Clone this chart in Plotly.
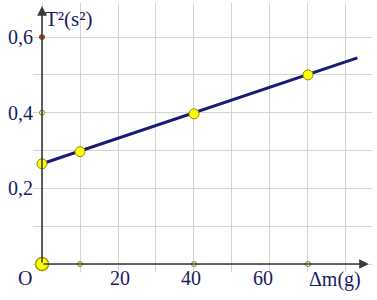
import plotly.graph_objects as go

# Data
dm = [0, 10, 40, 70]
t2 = [0.265, 0.297, 0.397, 0.50]
fit_x = [0, 83]
fit_y = [0.265, 0.545]
x_tick_dots = [10, 40, 70]
y_tick_dots_olive = [0.4]
y_tick_dots_red = [0.6]
x_labels = ["20", "40", "60"]
x_label_pos = [20.4, 39.2, 58.2]
y_labels = ["0,2", "0,4", "0,6"]
y_label_pos = [0.2, 0.4, 0.6]

NAVY = "#1a1a66"
FONT = dict(family="Liberation Serif, Times New Roman, serif", size=20, color=NAVY)

fig = go.Figure()

# fitted line
fig.add_trace(go.Scatter(x=fit_x, y=fit_y, mode="lines",
                         line=dict(color="#1a1a78", width=3), hoverinfo="skip"))
# data points
fig.add_trace(go.Scatter(x=dm, y=t2, mode="markers",
                         marker=dict(size=10, color="#ffff00",
                                     line=dict(color="#8a8a10", width=1)),
                         hoverinfo="skip"))
# axis dots
fig.add_trace(go.Scatter(x=x_tick_dots, y=[0] * len(x_tick_dots), mode="markers",
                         marker=dict(size=5, color="#f4f4c0",
                                     line=dict(color="#7a8a20", width=1)),
                         hoverinfo="skip"))
fig.add_trace(go.Scatter(x=[0] * len(y_tick_dots_olive), y=y_tick_dots_olive, mode="markers",
                         marker=dict(size=5, color="#f4f4c0",
                                     line=dict(color="#7a8a20", width=1)),
                         hoverinfo="skip"))
fig.add_trace(go.Scatter(x=[0] * len(y_tick_dots_red), y=y_tick_dots_red, mode="markers",
                         marker=dict(size=5, color="#b04030",
                                     line=dict(color="#a03020", width=1)),
                         hoverinfo="skip"))
# origin
fig.add_trace(go.Scatter(x=[0], y=[0], mode="markers",
                         marker=dict(size=13, color="#ffff00",
                                     line=dict(color="#a0a000", width=1.5)),
                         hoverinfo="skip"))

annotations = []
# axes arrows
annotations.append(dict(x=86, y=0, ax=0, ay=0, xref="x", yref="y", axref="x", ayref="y",
                        showarrow=True, arrowhead=2, arrowsize=1.2, arrowwidth=1.6,
                        arrowcolor="#3a3a3a", text=""))
annotations.append(dict(x=0, y=0.682, ax=0, ay=0, xref="x", yref="y", axref="x", ayref="y",
                        showarrow=True, arrowhead=2, arrowsize=1.2, arrowwidth=1.6,
                        arrowcolor="#3a3a3a", text=""))
for lab, yv in zip(y_labels, y_label_pos):
    annotations.append(dict(x=-1.8, y=yv, xref="x", yref="y", text=lab, showarrow=False,
                            xanchor="right", yanchor="middle", font=FONT))
# labels below the axis (paper y, below plot area)
for lab, xv in zip(x_labels, x_label_pos):
    annotations.append(dict(x=xv, y=-0.022, xref="x", yref="paper", text=lab, showarrow=False,
                            xanchor="center", yanchor="middle", font=FONT))
annotations.append(dict(x=77, y=-0.028, xref="x", yref="paper", text="Δm(g)", showarrow=False,
                        xanchor="center", yanchor="middle", font=FONT))
annotations.append(dict(x=-0.024, y=-0.022, xref="paper", yref="paper", text="O", showarrow=False,
                        xanchor="center", yanchor="middle", font=FONT))
annotations.append(dict(x=0.2, y=0.648, xref="x", yref="y", text="T²(s²)",
                        showarrow=False, xanchor="left", yanchor="middle",
                        font=dict(family=FONT["family"], size=21, color=NAVY)))

fig.update_layout(
    width=377, height=300,
    margin=dict(l=33, r=5, t=3, b=28),
    paper_bgcolor="white", plot_bgcolor="white",
    showlegend=False,
    xaxis=dict(range=[-2.37, 86.85], tick0=0, dtick=10, showgrid=True,
               gridcolor="#d4d4d4", gridwidth=1, showticklabels=False,
               zeroline=False, showline=False, ticks="", fixedrange=True),
    yaxis=dict(range=[-0.0211, 0.690], tick0=0, dtick=0.1, showgrid=True,
               gridcolor="#d4d4d4", gridwidth=1, showticklabels=False,
               zeroline=False, showline=False, ticks="", fixedrange=True),
    annotations=annotations,
)

fig.write_html("out.html", config={"displayModeBar": False})
